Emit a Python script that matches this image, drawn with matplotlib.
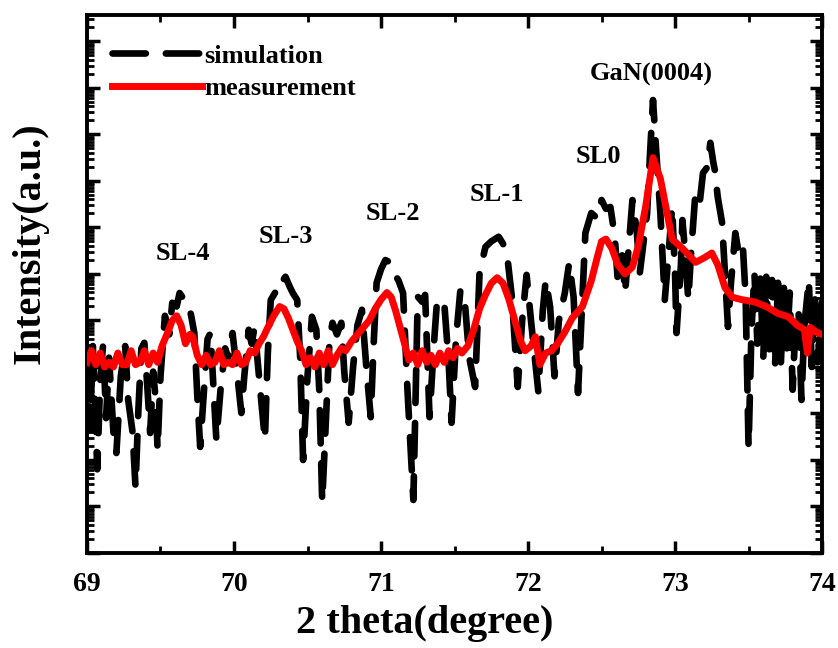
import numpy as np
import matplotlib
matplotlib.use("Agg")
import matplotlib.pyplot as plt
from matplotlib.ticker import LogLocator, NullFormatter, MultipleLocator

plt.rcParams['font.family'] = ['Liberation Serif', 'DejaVu Serif']
plt.rcParams['font.weight'] = 'bold'

# simulation (black dashed): 2theta in degrees, log10 of intensity
sim_x = [69.00, 69.02, 69.04, 69.07, 69.09, 69.11, 69.13, 69.15, 69.18, 69.20,
         69.23, 69.26, 69.28, 69.31, 69.33, 69.35, 69.37, 69.39, 69.41, 69.43,
         69.45, 69.47, 69.48, 69.50, 69.53, 69.56, 69.58, 69.61, 69.63, 69.66,
         69.69, 69.71, 69.73, 69.75, 69.77, 69.80, 69.82, 69.84, 69.86, 69.88,
         69.91, 69.94, 69.96, 69.99, 70.02, 70.05, 70.07, 70.10, 70.12, 70.14,
         70.17, 70.21, 70.23, 70.25, 70.28, 70.30, 70.33, 70.35, 70.38, 70.40,
         70.43, 70.45, 70.47, 70.50, 70.53, 70.56, 70.58, 70.60, 70.62, 70.65,
         70.67, 70.70, 70.73, 70.75, 70.78, 70.81, 70.84, 70.87, 70.90, 70.93,
         70.95, 70.97, 71.00, 71.03, 71.06, 71.09, 71.12, 71.15, 71.18, 71.22,
         71.25, 71.28, 71.30, 71.33, 71.36, 71.38, 71.41, 71.43, 71.46, 71.48,
         71.51, 71.54, 71.57, 71.60, 71.64, 71.67, 71.71, 71.75, 71.80, 71.83,
         71.86, 71.89, 71.93, 71.96, 71.99, 72.02, 72.07, 72.10, 72.12, 72.15,
         72.18, 72.21, 72.25, 72.28, 72.31, 72.34, 72.37, 72.39, 72.43, 72.47,
         72.50, 72.53, 72.56, 72.59, 72.61, 72.64, 72.66, 72.69, 72.71, 72.74,
         72.76, 72.79, 72.81, 72.83, 72.85, 72.87, 72.90, 72.93, 72.96, 72.98,
         73.00, 73.01, 73.04, 73.05, 73.07, 73.09, 73.11, 73.14, 73.17, 73.19,
         73.22, 73.24, 73.26, 73.27, 73.29, 73.32, 73.34, 73.36, 73.38, 73.41,
         73.43, 73.46, 73.48, 73.50, 73.52, 73.54, 73.56, 73.58, 73.60, 73.62,
         73.64, 73.66, 73.68, 73.70, 73.72, 73.74, 73.76, 73.78, 73.80, 73.82,
         73.84, 73.86, 73.88, 73.91, 73.93, 73.95, 73.97, 74.00]
sim_log = [4.30, 2.65, 4.45, 1.80, 3.70, 4.50, 2.90, 4.20, 2.60, 2.15,
           3.80, 4.45, 3.30, 2.60, 1.42, 3.10, 4.40, 4.52, 3.60, 2.58,
           3.90, 3.20, 2.22, 3.80, 5.10, 4.70, 5.38, 5.30, 5.59, 5.45,
           5.38, 5.08, 4.73, 3.40, 2.28, 3.70, 4.60, 4.73, 3.60, 2.43,
           3.57, 4.40, 4.20, 4.73, 3.90, 3.01, 3.80, 4.80, 4.50, 4.86,
           3.80, 2.43, 4.30, 5.44, 5.60, 5.87, 5.85, 5.94, 5.72, 5.59,
           5.44, 4.20, 2.00, 3.80, 5.08, 4.80, 3.50, 1.10, 2.50, 4.60,
           4.95, 4.70, 4.95, 3.90, 2.80, 4.00, 4.90, 5.23, 4.00, 2.92,
           4.50, 5.81, 6.10, 6.30, 6.25, 6.02, 5.85, 5.59, 3.50, 1.14,
           5.51, 5.40, 5.55, 2.92, 4.50, 5.38, 5.30, 5.38, 4.10, 2.80,
           4.60, 5.66, 5.40, 4.20, 3.57, 6.02, 6.58, 6.70, 6.80, 6.65,
           6.34, 5.50, 3.57, 5.00, 5.98, 5.00, 3.47, 5.20, 5.87, 5.30,
           3.80, 5.00, 5.59, 6.24, 5.50, 3.44, 5.50, 6.88, 7.31, 7.20,
           7.59, 7.40, 7.44, 6.80, 5.87, 6.40, 5.59, 6.80, 7.59, 6.90,
           6.02, 6.80, 7.31, 8.60, 9.74, 8.73, 7.31, 5.44, 6.60, 7.44,
           6.00, 4.73, 6.20, 7.16, 6.40, 5.44, 6.50, 7.81, 7.60, 8.17,
           8.30, 8.82, 8.40, 8.24, 7.66, 7.10, 6.00, 4.86, 5.80, 6.88,
           6.50, 6.67, 5.50, 2.28, 4.80, 6.02, 4.50, 5.90, 4.20, 5.94,
           4.30, 5.87, 4.00, 5.81, 4.10, 5.70, 4.40, 5.60, 3.51, 5.00,
           5.23, 3.29, 4.90, 5.87, 4.00, 5.59, 4.10, 5.40]

# measurement (red)
meas_x = [69.00, 69.03, 69.06, 69.09, 69.12, 69.15, 69.18, 69.21, 69.24, 69.27,
          69.30, 69.33, 69.36, 69.39, 69.42, 69.45, 69.48, 69.51, 69.55, 69.58,
          69.61, 69.64, 69.67, 69.70, 69.72, 69.75, 69.78, 69.81, 69.84, 69.87,
          69.90, 69.93, 69.96, 69.99, 70.02, 70.05, 70.08, 70.11, 70.14, 70.17,
          70.20, 70.23, 70.27, 70.31, 70.34, 70.37, 70.40, 70.43, 70.46, 70.49,
          70.52, 70.55, 70.58, 70.61, 70.64, 70.67, 70.70, 70.73, 70.76, 70.80,
          70.84, 70.88, 70.92, 70.96, 71.00, 71.04, 71.07, 71.10, 71.13, 71.16,
          71.19, 71.22, 71.25, 71.28, 71.31, 71.34, 71.37, 71.40, 71.43, 71.46,
          71.49, 71.52, 71.55, 71.59, 71.63, 71.67, 71.71, 71.75, 71.79, 71.83,
          71.87, 71.91, 71.95, 71.98, 72.02, 72.05, 72.08, 72.12, 72.16, 72.20,
          72.25, 72.30, 72.37, 72.43, 72.47, 72.50, 72.53, 72.57, 72.61, 72.66,
          72.71, 72.75, 72.80, 72.85, 72.90, 72.94, 72.98, 73.05, 73.14, 73.20,
          73.25, 73.29, 73.34, 73.39, 73.45, 73.54, 73.62, 73.70, 73.77, 73.83,
          73.88, 73.90, 73.92, 73.96, 74.00]
meas_log = [4.10, 4.35, 4.05, 4.30, 4.00, 4.10, 4.00, 4.30, 4.05, 4.05,
            4.35, 4.05, 4.10, 4.35, 4.05, 4.30, 4.10, 4.45, 4.75, 5.00,
            5.10, 4.90, 4.50, 4.70, 4.65, 4.25, 4.05, 4.25, 4.05, 4.10,
            4.35, 4.05, 4.10, 4.05, 4.30, 4.05, 4.10, 4.35, 4.30, 4.50,
            4.65, 4.85, 5.10, 5.30, 5.25, 5.05, 4.80, 4.55, 4.35, 4.05,
            4.20, 4.00, 4.30, 4.05, 4.35, 4.05, 4.25, 4.40, 4.35, 4.55,
            4.70, 4.85, 5.00, 5.25, 5.45, 5.60, 5.50, 5.20, 4.85, 4.50,
            4.15, 4.30, 4.05, 4.35, 4.10, 4.25, 4.05, 4.30, 4.10, 4.35,
            4.20, 4.40, 4.30, 4.45, 4.80, 5.25, 5.55, 5.80, 5.92, 5.80,
            5.45, 5.00, 4.55, 4.35, 4.45, 4.65, 4.05, 4.30, 4.35, 4.50,
            4.75, 5.05, 5.30, 5.85, 6.35, 6.70, 6.75, 6.55, 6.20, 6.00,
            6.15, 6.60, 7.45, 8.50, 8.05, 7.40, 6.75, 6.55, 6.25, 6.35,
            6.45, 6.20, 5.70, 5.50, 5.45, 5.40, 5.30, 5.15, 5.08, 4.90,
            4.80, 4.30, 4.85, 4.75, 4.70]

peak_names = ['SL-4', 'SL-3', 'SL-2', 'SL-1', 'SL0', 'GaN(0004)']
peak_x = [69.65, 70.35, 71.08, 71.79, 72.48, 72.84]
peak_log = [6.45, 6.80, 7.31, 7.70, 8.52, 10.28]

fig = plt.figure(figsize=(8.38, 6.48), dpi=100)
ax = fig.add_axes([0.1038, 0.1466, 0.8772, 0.8304])

ax.plot(sim_x, 10 ** np.array(sim_log), color='black', lw=4.8,
        linestyle=(0, (5, 3)), dash_capstyle='round', label='simulation', zorder=2)
ax.plot(meas_x, 10 ** np.array(meas_log), color='#ff0000', lw=5,
        label='measurement', zorder=3)

for name, px, pl in zip(peak_names, peak_x, peak_log):
    ax.text(px, 10 ** pl, name, ha='center', va='center', fontsize=19, fontweight='bold')

ax.set_yscale('log')
ax.set_xlim(69, 74)
ax.set_ylim(1, 10 ** 11.57)

ax.xaxis.set_major_locator(MultipleLocator(1))
ax.xaxis.set_minor_locator(MultipleLocator(0.5))
ax.yaxis.set_major_locator(LogLocator(base=10, numticks=100))
ax.yaxis.set_minor_locator(LogLocator(base=10, subs=np.arange(2, 10), numticks=100))
ax.yaxis.set_major_formatter(NullFormatter())
ax.yaxis.set_minor_formatter(NullFormatter())

ax.tick_params(which='major', direction='in', length=9, width=2.5,
               top=True, right=True, labelsize=20, pad=14)
ax.tick_params(which='minor', direction='in', length=5, width=2,
               top=True, right=True)
for s in ax.spines.values():
    s.set_linewidth(2.8)

ax.set_xlabel('2 theta(degree)', fontsize=29, fontweight='bold')
ax.set_ylabel('Intensity(a.u.)', fontsize=29, fontweight='bold')
ax.xaxis.set_label_coords(0.46, -0.096)
ax.yaxis.set_label_coords(-0.052, 0.576)

leg = ax.legend(loc='upper left', bbox_to_anchor=(0.002, 0.99), frameon=False,
                fontsize=19, handlelength=3.4, handletextpad=0.1, labelspacing=0.35)
for t in leg.get_texts():
    t.set_fontweight('bold')

fig.savefig('out.png', dpi=100)
